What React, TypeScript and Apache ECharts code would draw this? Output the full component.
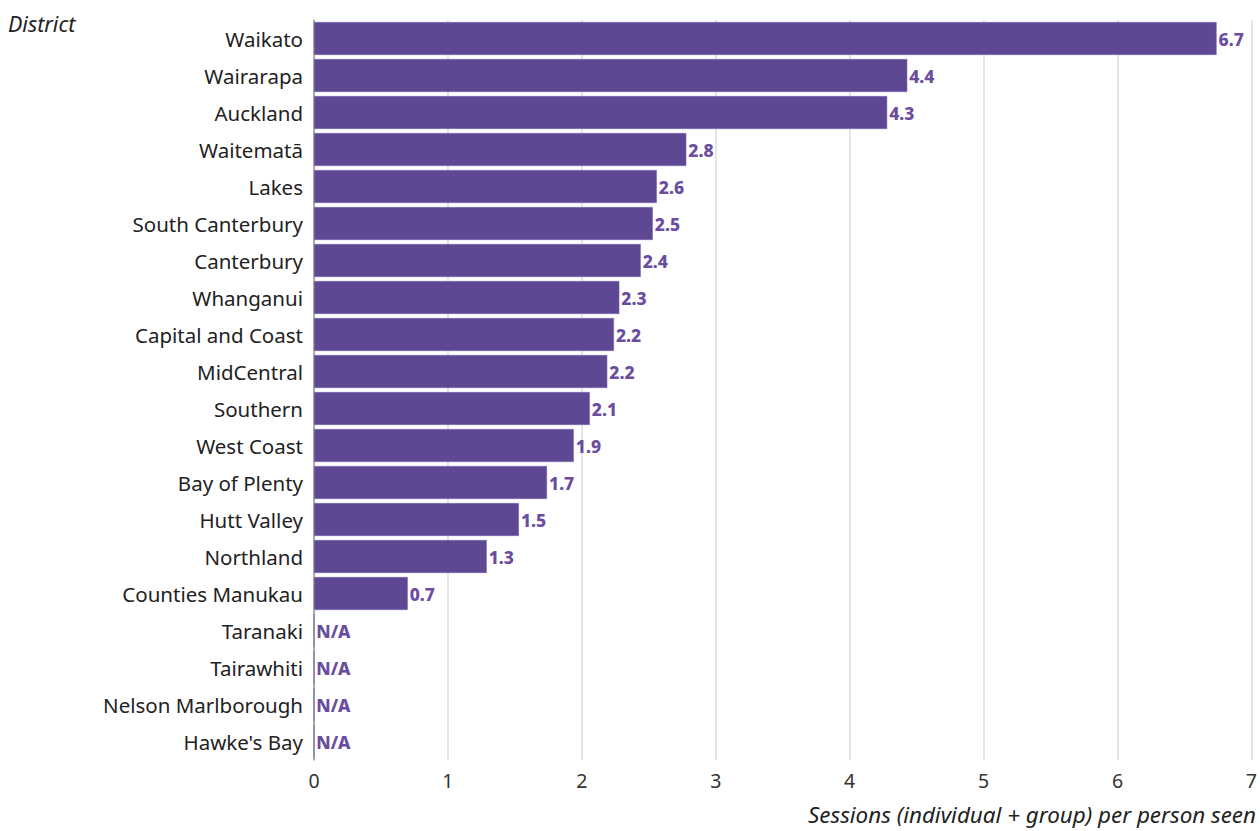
import React, { useEffect, useRef } from "react";
import * as echarts from "echarts";

const districts = [
  "Waikato", "Wairarapa", "Auckland", "Waitematā", "Lakes", "South Canterbury",
  "Canterbury", "Whanganui", "Capital and Coast", "MidCentral", "Southern",
  "West Coast", "Bay of Plenty", "Hutt Valley", "Northland", "Counties Manukau",
  "Taranaki", "Tairawhiti", "Nelson Marlborough", "Hawke's Bay",
];
const sessions: (number | null)[] = [
  6.74, 4.43, 4.28, 2.78, 2.56, 2.53, 2.44, 2.28, 2.24, 2.19, 2.06, 1.94,
  1.74, 1.53, 1.29, 0.7, null, null, null, null,
];
const xTicks = [0, 1, 2, 3, 4, 5, 6, 7];

const FONT = "'Noto Sans', sans-serif";
const BAR = "#5e4894";
const LABEL = "#6a4ca0";

export default function App() {
  const ref = useRef<HTMLDivElement>(null);
  useEffect(() => {
    if (!ref.current) return;
    const chart = echarts.init(ref.current, undefined, { renderer: "svg" });
    const data = sessions.map((v) =>
      v == null ? { value: 0, na: true } : { value: v, na: false }
    );
    chart.setOption({
      animation: false,
      textStyle: { fontFamily: FONT },
      grid: { left: 314, right: 8, top: 20, bottom: 71, containLabel: false },
      xAxis: {
        type: "value",
        min: xTicks[0],
        max: xTicks[xTicks.length - 1],
        interval: 1,
        axisLine: { show: false },
        axisTick: { show: false },
        axisLabel: { fontSize: 19.5, color: "#333", margin: 10, fontFamily: FONT },
        splitLine: { show: true, lineStyle: { color: "#dcdcdc", width: 1.5 } },
      },
      yAxis: {
        type: "category",
        data: districts,
        inverse: true,
        axisLine: { show: true, lineStyle: { color: "#999", width: 1.5 } },
        axisTick: { show: false },
        axisLabel: { fontSize: 20.5, color: "#222", margin: 11, fontFamily: FONT },
      },
      series: [
        {
          type: "bar",
          data,
          barCategoryGap: "11%",
          itemStyle: { color: BAR, borderColor: "#7b68ae", borderWidth: 0.5 },
          label: {
            show: true,
            position: "right",
            distance: 2,
            color: LABEL,
            fontWeight: 800,
            fontSize: 17.5,
            fontFamily: FONT,
            formatter: (p: any) => (p.data.na ? "N/A" : p.data.value.toFixed(1)),
          },
        },
      ],
      graphic: [
        {
          type: "text",
          left: 8,
          top: 12,
          style: { text: "District", fontSize: 21.5, fontStyle: "italic", fill: "#222", fontFamily: FONT },
        },
        {
          type: "text",
          right: 4,
          top: 803,
          style: {
            text: "Sessions (individual + group) per person seen",
            fontSize: 22.4,
            fontStyle: "italic",
            fill: "#222",
            fontFamily: FONT,
          },
        },
      ],
    });
    return () => chart.dispose();
  }, []);
  return (
    <div
      ref={ref}
      style={{ position: "fixed", left: 0, top: 0, width: 1260, height: 831, background: "#fff" }}
    />
  );
}
